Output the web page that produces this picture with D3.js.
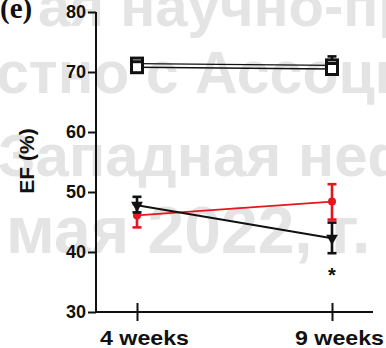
<!DOCTYPE html>
<html><head><meta charset="utf-8">
<script src="https://cdn.jsdelivr.net/npm/d3@7"></script>
<style>html,body{margin:0;padding:0;background:#fff;overflow:hidden}</style>
</head><body>
<svg id="c" width="386" height="348"></svg>
<script>
// ---- data ----
const groups = ["4 weeks", "9 weeks"];
const yTicks = [30, 40, 50, 60, 70, 80];
const sqAMean = [71.4, 71.1];
const sqALo = [70.6, 69.9];
const sqAHi = [71.9, 72.6];
const sqBMean = [70.8, 70.5];
const redMean = [46.1, 48.4];
const redLo = [44.1, 45.4];
const redHi = [48.0, 51.3];
const blackMean = [47.8, 42.3];
const blackLo = [46.6, 39.8];
const blackHi = [49.2, 44.9];
const starGroup = "9 weeks";
const watermark = ["ая научно-пр", "стно с Ассоциа", "Западная неф", "мая 2022, г."];

const svg = d3.select("#c");
const x = d3.scalePoint().domain(groups).range([137, 332]);
const y = d3.scaleLinear().domain([30, 80]).range([312, 12]);
const RED = "#e4161e", BLK = "#111";

// watermark
const wm = svg.append("g").attr("fill", "#e4e4e4")
  .style("font-family", "'Liberation Sans', Arial, sans-serif").style("font-weight", "bold");
const wmPos = [[38, 26, 58], [-4, 93, 59], [-2, 176, 60], [6, 253, 66]];
watermark.forEach((t, i) => {
  wm.append("text").attr("x", wmPos[i][0]).attr("y", wmPos[i][1])
    .attr("font-size", wmPos[i][2]).text(t);
});

// axes
const font = "'Liberation Sans', Arial, Helvetica, sans-serif";
const yAxis = svg.append("g").attr("transform", "translate(96,0)")
  .call(d3.axisLeft(y).tickValues(yTicks).tickSize(8).tickPadding(2));
yAxis.select(".domain").attr("d", `M0,${y(80)}V${y(30)}`);
yAxis.selectAll("text").style("font-family", font).style("font-weight", "bold")
  .attr("font-size", 18).attr("fill", BLK);

const xAxis = svg.append("g").attr("transform", `translate(0,${y(30)})`)
  .call(d3.axisBottom(x).tickSize(9).tickPadding(8));
xAxis.select(".domain").attr("d", "M95,0H373");
xAxis.selectAll(".tick line").attr("y1", -9).attr("y2", 9);
xAxis.selectAll("text").style("font-family", font).style("font-weight", "bold")
  .attr("font-size", 21).attr("fill", BLK).attr("dx", 7).attr("dy", "0.75em")
  .attr("textLength", 89).attr("lengthAdjust", "spacingAndGlyphs");
svg.selectAll(".domain, .tick line").attr("stroke", BLK).attr("stroke-width", 2);

// labels
svg.append("text").attr("transform", "translate(34,161) rotate(-90)")
  .attr("text-anchor", "middle").style("font-family", font).style("font-weight", "bold")
  .attr("font-size", 21).attr("fill", BLK).text("EF (%)");
svg.append("text").attr("x", 0).attr("y", 18)
  .style("font-family", "'Liberation Serif', 'Times New Roman', serif").style("font-weight", "bold")
  .attr("font-size", 29).attr("fill", BLK).text("(e)");

// helpers
const line = d3.line().x((d, i) => x(groups[i])).y(d => y(d));
function errBars(lo, hi, color) {
  groups.forEach((g, i) => {
    const gx = x(g);
    const e = svg.append("g").attr("stroke", color).attr("stroke-width", 2.6);
    e.append("line").attr("x1", gx).attr("x2", gx).attr("y1", y(lo[i])).attr("y2", y(hi[i]));
    e.append("line").attr("x1", gx - 4.5).attr("x2", gx + 4.5).attr("y1", y(lo[i])).attr("y2", y(lo[i]));
    e.append("line").attr("x1", gx - 4.5).attr("x2", gx + 4.5).attr("y1", y(hi[i])).attr("y2", y(hi[i]));
  });
}

// square series (two overlapping groups)
svg.append("path").datum(sqAMean).attr("d", line).attr("fill", "none").attr("stroke", BLK).attr("stroke-width", 1.4);
svg.append("path").datum(sqBMean).attr("d", line).attr("fill", "none").attr("stroke", BLK).attr("stroke-width", 1.4);
errBars(sqALo, sqAHi, BLK);
[sqAMean, sqBMean].forEach(arr => {
  svg.append("g").selectAll("rect").data(arr).join("rect")
    .attr("x", (d, i) => x(groups[i]) - 5.5).attr("y", d => y(d) - 5.5)
    .attr("width", 11).attr("height", 11)
    .attr("fill", "#fff").attr("stroke", BLK).attr("stroke-width", 3);
});

// red series
svg.append("path").datum(redMean).attr("d", line).attr("fill", "none").attr("stroke", RED).attr("stroke-width", 1.9);
errBars(redLo, redHi, RED);
svg.append("g").selectAll("circle").data(redMean).join("circle")
  .attr("cx", (d, i) => x(groups[i])).attr("cy", d => y(d)).attr("r", 4).attr("fill", RED);

// black series
svg.append("path").datum(blackMean).attr("d", line).attr("fill", "none").attr("stroke", BLK).attr("stroke-width", 1.9);
errBars(blackLo, blackHi, BLK);
svg.append("g").selectAll("path.tri").data(blackMean).join("path").attr("class", "tri")
  .attr("d", d3.symbol().type(d3.symbolTriangle).size(60))
  .attr("transform", (d, i) => `translate(${x(groups[i])},${y(d)}) rotate(180)`)
  .attr("fill", BLK);

// significance mark
const si = groups.indexOf(starGroup);
svg.append("text").attr("x", x(starGroup)).attr("y", y(blackLo[si]) + 29)
  .attr("text-anchor", "middle").style("font-family", font).style("font-weight", "bold")
  .attr("font-size", 20).attr("fill", BLK).text("*");
</script>
</body></html>
